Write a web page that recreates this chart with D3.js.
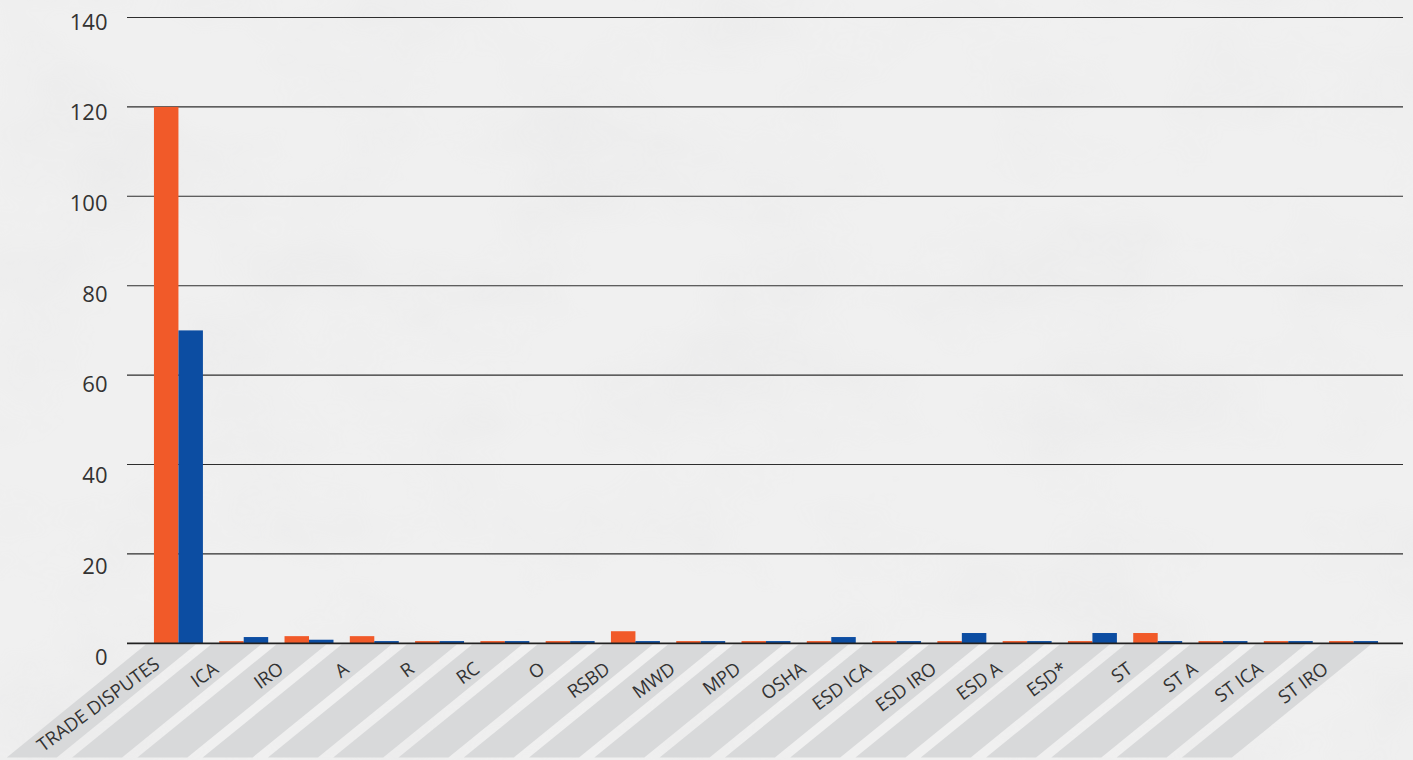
<!DOCTYPE html>
<html>
<head>
<meta charset="utf-8">
<script src="https://cdn.jsdelivr.net/npm/d3@7"></script>
<style>
  html, body { margin: 0; padding: 0; background: #eeeeee; }
  svg { display: block; }
</style>
</head>
<body>
<svg id="chart" width="1413" height="760"></svg>
<script>
// ---- data ----
const categories = ["TRADE DISPUTES","ICA","IRO","A","R","RC","O","RSBD","MWD","MPD","OSHA","ESD ICA","ESD IRO","ESD A","ESD*","ST","ST A","ST ICA","ST IRO"];
const seriesOrange = [120, 0.5, 1.6, 1.6, 0.5, 0.5, 0.5, 2.7, 0.5, 0.5, 0.5, 0.5, 0.5, 0.5, 0.5, 2.3, 0.5, 0.5, 0.5];
const seriesBlue   = [70, 1.4, 0.8, 0.5, 0.5, 0.5, 0.5, 0.5, 0.5, 0.5, 1.4, 0.5, 2.3, 0.5, 2.3, 0.5, 0.5, 0.5, 0.5];
const yTicks = [0, 20, 40, 60, 80, 100, 120, 140];
const seriesKeys = ["orange", "blue"];
const colors = { orange: "#f15a29", blue: "#0c4da2" };

const W = 1413, H = 760;
const svg = d3.select("#chart");

// ---- background with subtle texture ----
const defs = svg.append("defs");
const f = defs.append("filter").attr("id", "tex").attr("x", 0).attr("y", 0).attr("width", 1).attr("height", 1);
f.append("feTurbulence").attr("type", "fractalNoise").attr("baseFrequency", "0.006 0.009").attr("numOctaves", 4).attr("seed", 3).attr("result", "n");
f.append("feColorMatrix").attr("in", "n").attr("type", "matrix")
  .attr("values", "0 0 0 0 0.55  0 0 0 0 0.55  0 0 0 0 0.56  0.9 0 0 0 -0.38");
svg.append("rect").attr("width", W).attr("height", H).attr("fill", "#f0f0f0");
svg.append("rect").attr("width", W).attr("height", H).attr("filter", "url(#tex)").attr("opacity", 0.2);

// ---- scales ----
const x = d3.scaleBand().domain(categories).range([145.8, 1386.2]).paddingInner(0.25).paddingOuter(0.125);
const x1 = d3.scaleBand().domain(seriesKeys).range([0, x.bandwidth()]);
const y = d3.scaleLinear().domain([0, 140]).range([643.3, 17.5]);
const yLabel = d3.scaleLinear().domain([0, 140]).range([655.5, 20.5]);

const gridLeft = 127, gridRight = 1403;
const bandTop = 644.5, bandBottom = 757.5;
const slant = 139; // horizontal shift over band height

// ---- slanted gray label bands ----
const step = x.step();
const bandStart = d => x(d) - x.paddingInner() * step / 2;
svg.append("g").selectAll("path").data(categories).join("path")
  .attr("d", d => {
    const a = bandStart(d), b = a + x.bandwidth() + 1;
    return `M${a},${bandTop}L${b},${bandTop}L${b - slant},${bandBottom}L${a - slant},${bandBottom}Z`;
  })
  .attr("fill", "#d8d9da");

// ---- gridlines ----
svg.append("g").selectAll("line").data(yTicks.filter(t => t !== 0)).join("line")
  .attr("x1", gridLeft).attr("x2", gridRight)
  .attr("y1", d => y(d)).attr("y2", d => y(d))
  .attr("stroke", "#2e2e2e").attr("stroke-width", 1.1);

// ---- y labels ----
svg.append("g").selectAll("text").data(yTicks).join("text")
  .attr("x", 107.5).attr("y", d => yLabel(d))
  .attr("text-anchor", "end").attr("dominant-baseline", "central")
  .attr("font-family", "'Open Sans', sans-serif").attr("font-size", 22)
  .attr("fill", "#333").text(d => d);

// ---- bars ----
const rows = categories.map((c, i) => ({ c, orange: seriesOrange[i], blue: seriesBlue[i] }));
svg.append("g").selectAll("g").data(rows).join("g")
  .attr("transform", d => `translate(${x(d.c)},0)`)
  .selectAll("rect").data(d => seriesKeys.map(k => ({ k, v: d[k] }))).join("rect")
  .attr("x", d => x1(d.k)).attr("width", x1.bandwidth())
  .attr("y", d => y(d.v)).attr("height", d => y(0) - y(d.v))
  .attr("fill", d => colors[d.k]);

// ---- baseline ----
svg.append("line").attr("x1", gridLeft).attr("x2", gridRight)
  .attr("y1", y(0)).attr("y2", y(0))
  .attr("stroke", "#222").attr("stroke-width", 1.8);

// ---- category labels ----
const ang = 36 * Math.PI / 180;
const minStart = 43;
svg.append("g").selectAll("text").data(categories).join("text")
  .attr("text-anchor", "end")
  .attr("font-family", "'Open Sans', sans-serif").attr("font-size", 18.5)
  .attr("fill", "#333")
  .text(d => d)
  .each(function (d) {
    const L = this.getComputedTextLength();
    let px = x(d) + x.bandwidth() / 2 - 24, py = 671.5;
    const sx = px - L * Math.cos(ang);
    if (sx < minStart) {
      const s = (minStart - sx) / Math.cos(ang);
      px += s * Math.cos(ang); py -= s * Math.sin(ang);
    }
    d3.select(this).attr("transform", `translate(${px},${py}) rotate(-36)`);
  });
</script>
</body>
</html>
